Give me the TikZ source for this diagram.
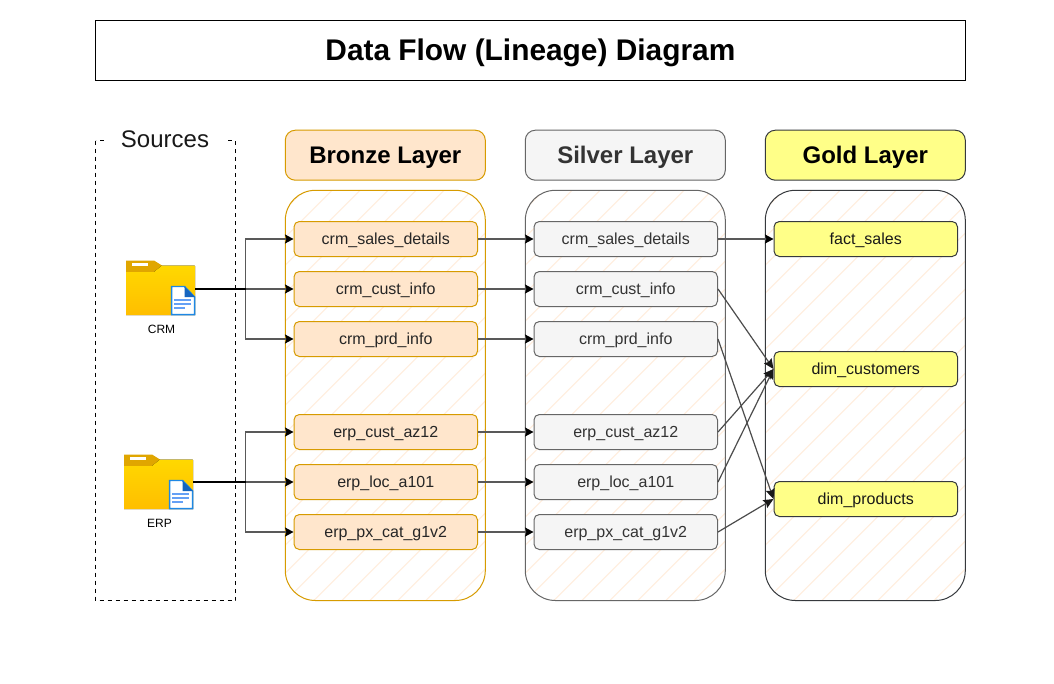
\documentclass[tikz,border=0pt]{standalone}
\usepackage{fontspec}
\setmainfont{Liberation Sans}
\usetikzlibrary{arrows.meta}
\definecolor{bronzefill}{HTML}{FFE6CC}
\definecolor{bronzeline}{HTML}{D79B00}
\definecolor{silverfill}{HTML}{F5F5F5}
\definecolor{silverline}{HTML}{666666}
\definecolor{goldfill}{HTML}{FFFF88}
\definecolor{goldline}{HTML}{36393D}
\definecolor{hatchcol}{HTML}{FFEEDD}
\newcommand{\pxx}{0.75pt}
\tikzset{
  x=0.75pt,y=-0.75pt,
  header/.style={draw=#1,rounded corners=7.5pt,minimum width=200*\pxx,minimum height=50*\pxx,line width=0.75pt,inner sep=0pt,text height=15pt,text depth=2pt,font=\fontsize{18}{20}\selectfont\bfseries},
  item/.style={rounded corners=4pt,minimum width=183.5*\pxx,minimum height=35*\pxx,line width=0.75pt,inner sep=0pt,text height=9.5pt,text depth=1.3pt,font=\fontsize{12}{14}\selectfont},
  bronzeitem/.style={item,draw=bronzeline,fill=bronzefill,text=black!85},
  silveritem/.style={item,draw=silverline,fill=silverfill,text=black!80},
  golditem/.style={item,draw=goldline,fill=goldfill,text=black!90},
  flow/.style={draw=black!65,line width=1pt,-{Stealth[length=8.5*\pxx,width=9*\pxx,inset=1.5*\pxx,black]}},
  trunk/.style={draw=black,line width=1pt},
  flowg/.style={draw=black!70,line width=0.9pt,-{Stealth[length=10*\pxx,width=9*\pxx,inset=1.5*\pxx,black!90]}},
  container/.style={line width=0.75pt,draw=#1,rounded corners=22.5pt},
  hatchline/.style={draw=hatchcol,line width=0.75pt},
  iconbox/.style={minimum width=69*\pxx,minimum height=54*\pxx,inner sep=0pt},
  iconlabel/.style={font=\fontsize{9}{11}\selectfont,text=black,inner sep=0pt}
}
\newcommand{\hatched}[3]{%
  \begin{scope}
    \clip[rounded corners=22.5pt] (#1,190.3) rectangle (#1+200,600.5);
    \foreach \k in {-15,...,8} {
      \draw[hatchline] (#1+\k*28,601) -- (#1+\k*28+411,190);
    }
  \end{scope}
  \draw[container=#2] (#1,190.3) rectangle (#1+200,600.5);
}
\newcommand{\foldericon}[2]{%
  \begin{scope}[shift={(#1,#2)}]
    \fill[color={rgb,255:red,224;green,166;blue,0}] (0,0.5) -- (28,0.5) -- (36,5.5) -- (36,12) -- (0,12) -- cycle;
    \fill[top color={rgb,255:red,255;green,216;blue,0},bottom color={rgb,255:red,255;green,190;blue,0}]
      (0,12) -- (28,12) -- (36,5.5) -- (68.5,5.5) -- (69,6) -- (69,55) -- (0,55) -- cycle;
    \fill[white] (6,2.5) rectangle (22,5.7);
    \fill[white] (45.5,26.5) -- (58.5,26.5) -- (69,37) -- (69,55) -- (45.5,55) -- cycle;
    \draw[color={rgb,255:red,30;green,136;blue,229},line width=1.1pt] (45.7,26.5) -- (58.5,26.5) -- (68.6,37) -- (68.6,54.7) -- (45.7,54.7) -- cycle;
    \fill[color={rgb,255:red,21;green,101;blue,192}] (58.5,26.5) -- (69,37) -- (58.5,37) -- cycle;
    \draw[color={rgb,255:red,100;green,160;blue,245},line width=1.3pt] (48,40) -- (65,40) (48,44) -- (65,44) (48,48) -- (59,48);
  \end{scope}
}
\begin{document}
\begin{tikzpicture}
\useasboundingbox[fill=white] (0,0) rectangle (1054,683);

% title
\node[draw=black,line width=0.75pt,minimum width=870.2*\pxx,minimum height=60*\pxx,inner sep=0pt,text height=19pt,text depth=3pt,font=\fontsize{22.4}{26}\selectfont\bfseries] (title) at (530.4,50.3) {Data Flow (Lineage) Diagram};

% sources
\draw[line width=0.75pt,dash pattern=on 3pt off 3pt] (95.5,140.5) rectangle (235.5,600.5);
\node[fill=white,minimum width=118*\pxx,minimum height=26*\pxx,inner sep=0pt,font=\fontsize{18}{20}\selectfont,text=black!90] (sources) at (165,139) {Sources};

% headers
\node[header=bronzeline,fill=bronzefill] (hb) at (385.3,155.2) {Bronze Layer};
\node[header=silverline,fill=silverfill,text=black!80] (hs) at (625.3,155.2) {Silver Layer};
\node[header=goldline,fill=goldfill] (hg) at (865.3,155.2) {Gold Layer};

% containers
\hatched{285.3}{bronzeline}{}
\hatched{525.3}{silverline}{}
\hatched{765.3}{goldline}{}

% icons
\foldericon{126}{260}
\foldericon{124}{454}
\node[iconbox] (crm) at (160.5,289) {};
\node[iconbox] (erp) at (158.5,482) {};
\node[iconlabel] (crml) at (161.5,329.5) {CRM};
\node[iconlabel] (erpl) at (159.5,523.5) {ERP};

% bronze items
\node[bronzeitem] (b1) at (385.75,239) {crm\_sales\_details};
\node[bronzeitem] (b2) at (385.75,289) {crm\_cust\_info};
\node[bronzeitem] (b3) at (385.75,339) {crm\_prd\_info};
\node[bronzeitem] (b4) at (385.75,432) {erp\_cust\_az12};
\node[bronzeitem] (b5) at (385.75,482) {erp\_loc\_a101};
\node[bronzeitem] (b6) at (385.75,532) {erp\_px\_cat\_g1v2};

% silver items
\node[silveritem] (s1) at (625.75,239) {crm\_sales\_details};
\node[silveritem] (s2) at (625.75,289) {crm\_cust\_info};
\node[silveritem] (s3) at (625.75,339) {crm\_prd\_info};
\node[silveritem] (s4) at (625.75,432) {erp\_cust\_az12};
\node[silveritem] (s5) at (625.75,482) {erp\_loc\_a101};
\node[silveritem] (s6) at (625.75,532) {erp\_px\_cat\_g1v2};

% gold items
\node[golditem] (g1) at (865.75,239) {fact\_sales};
\node[golditem] (g2) at (865.75,369) {dim\_customers};
\node[golditem] (g3) at (865.75,499) {dim\_products};

% connectors sources
\coordinate (cj) at (245.5,289);
\coordinate (ej) at (245.5,482);
\draw[flow] (cj) |- (b1.west);
\draw[flow] (cj) -- (b2.west);
\draw[flow] (cj) |- (b3.west);
\draw[flow] (ej) |- (b4.west);
\draw[flow] (ej) -- (b5.west);
\draw[flow] (ej) |- (b6.west);
\draw[trunk] (crm.east) -- (cj);
\draw[trunk] (erp.east) -- (ej);

% bronze to silver
\foreach \i in {1,...,6} {\draw[flow] (b\i.east) -- (s\i.west);}

% silver to gold
\draw[flow] (s1.east) -- (g1.west);
\draw[flowg] (s2.east) -- (g2.west);
\draw[flowg] (s3.east) -- (g3.west);
\draw[flowg] (s4.east) -- (g2.west);
\draw[flowg] (s5.east) -- (g2.west);
\draw[flowg] (s6.east) -- (g3.west);
\end{tikzpicture}
\end{document}
